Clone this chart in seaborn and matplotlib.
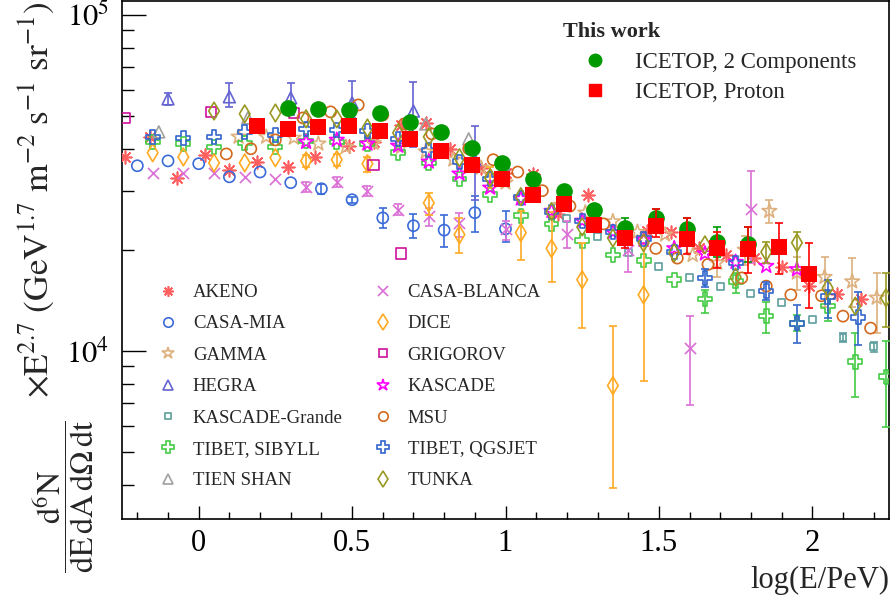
import numpy as np
import matplotlib
matplotlib.use("Agg")
import matplotlib.pyplot as plt
from matplotlib.lines import Line2D
from matplotlib.ticker import LogLocator, NullFormatter, MultipleLocator
import seaborn as sns

nan = np.nan

# ---------------- data (log10(E/PeV), flux x E^2.7) ----------------
ICETOP2C_X = [0.29, 0.39, 0.49, 0.59, 0.69, 0.79, 0.89, 0.99, 1.09, 1.19, 1.29, 1.39, 1.49, 1.59, 1.69, 1.79]
ICETOP2C_Y = [52900, 52500, 52100, 51100, 48000, 44900, 40200, 36300, 32500, 29900, 26300, 23200, 24900, 23100, 21100, 20800]
ICETOP2C_LO = [nan] * 11 + [21900, 23300, 21300, 19100, 18400]
ICETOP2C_HI = [nan] * 11 + [24800, 26500, 24900, 23400, 23400]

ICETOPP_X = [0.19, 0.29, 0.39, 0.49, 0.59, 0.69, 0.79, 0.89, 0.99, 1.09, 1.19, 1.29, 1.39, 1.49, 1.59, 1.69, 1.79, 1.89, 1.99]
ICETOPP_Y = [46700, 45800, 46400, 46700, 45200, 42800, 39400, 35800, 32500, 29100, 27400, 23700, 21700, 23600, 21600, 20300, 20100, 20400, 16950]
ICETOPP_LO = [nan] * 12 + [20300, 21900, 19500, 17700, 17100, 16950, 13450]
ICETOPP_HI = [nan] * 12 + [22600, 26500, 24900, 22600, 23400, 24100, 21000]

AKENO_X = [-0.24, -0.16, -0.07, 0.02, 0.10, 0.19, 0.29, 0.38, 0.49, 0.57, 0.66, 0.74, 0.82, 0.92, 1.00, 1.09, 1.17, 1.27, 1.46, 1.54, 1.63, 1.72, 1.81, 1.90, 1.99, 2.08, 2.16]
AKENO_Y = [37800, 43400, 32800, 38400, 34600, 36600, 35300, 37800, 40800, 41900, 47100, 47800, 40000, 35100, 33900, 33700, 25600, 29200, 22800, 22600, 20300, 19300, 18900, 17800, 15600, 14800, 14300]

CASAMIA_X = [-0.20, -0.10, 0.00, 0.10, 0.20, 0.30, 0.40, 0.50, 0.60, 0.70, 0.80, 0.90, 1.00]
CASAMIA_Y = [35600, 36800, 36100, 33000, 34100, 31700, 30400, 28200, 24900, 23600, 22900, 25800, 23100]
CASAMIA_LO = [nan] * 6 + [29400, 27600, 23300, 21700, 20400, 22600, 21100]
CASAMIA_HI = [nan] * 6 + [31400, 28800, 26700, 25600, 25400, 29000, 26100]

HEGRA_X = [-0.10, 0.10, 0.30, 0.50, 0.70, 0.90]
HEGRA_Y = [56300, 57100, 56700, 54800, 51800, 37100]
HEGRA_LO = [54000, 53300, 50400, 49400, 40500, 28200]
HEGRA_HI = [58600, 62800, 62800, 63600, 63200, 46800]

GAMMA_X = [0.13, 0.22, 0.31, 0.39, 0.48, 0.57, 0.66, 0.74, 0.83, 0.92, 1.00, 1.09, 1.18, 1.26, 1.35, 1.43, 1.52, 1.61, 1.69, 1.78, 1.86, 1.95, 2.04, 2.13, 2.21]
GAMMA_Y = [43400, 43400, 43100, 41400, 40500, 41600, 40500, 39200, 37100, 35100, 31700, 30200, 27200, 25800, 24300, 22600, 22200, 19300, 18300, 20000, 26100, 17100, 16600, 16100, 14400]
GAMMA_LO = [nan] * 18 + [16600, 18000, 24100, 15200, 13550, 13550, 11340]
GAMMA_HI = [nan] * 18 + [20000, 22000, 28200, 19100, 19100, 18900, 17100]

DICE_X = [-0.15, -0.05, 0.05, 0.15, 0.25, 0.35, 0.45, 0.55, 0.75, 0.85, 0.95, 1.05, 1.15, 1.25, 1.35, 1.45]
DICE_Y = [38900, 37800, 36300, 36300, 37600, 36800, 37100, 36100, 27600, 22200, 32800, 22500, 20200, 16300, 7890, 14700]
DICE_LO = [nan] * 5 + [35300, 35600, 34100, 25400, 19600, 30600, 18600, 16000, 11700, 3920, 8160]
DICE_HI = [nan] * 5 + [38400, 38600, 37800, 29600, 24900, 35300, 26100, 26000, 21000, 11900, 21000]

CASABLANCA_X = [-0.15, -0.05, 0.05, 0.15, 0.25, 0.35, 0.45, 0.55, 0.65, 0.75, 0.85, 1.00, 1.20, 1.40, 1.60, 1.80]
CASABLANCA_Y = [33900, 33900, 33900, 33000, 32500, 30800, 31900, 30000, 26300, 25300, 24100, 23100, 22300, 20000, 10200, 26500]
CASABLANCA_LO = [nan] * 5 + [29800, 30800, 29000, 25400, 23600, 21900, 21400, 20200, 17200, 6930, 18300]
CASABLANCA_HI = [nan] * 5 + [31800, 33000, 31000, 27300, 26700, 25800, 24300, 24300, 21000, 12700, 34400]

GRIGOROV_X = [-0.24, 0.04, 0.31, 0.57, 0.66]
GRIGOROV_Y = [49400, 51500, 51100, 35800, 19500]

KASCADE_X = [0.35, 0.45, 0.55, 0.65, 0.75, 0.85, 0.95, 1.05, 1.15, 1.25, 1.35, 1.45, 1.55, 1.65, 1.75, 1.85, 1.95]
KASCADE_Y = [41900, 42500, 41400, 40800, 36600, 33700, 30600, 28400, 26100, 24400, 22600, 21400, 20200, 19500, 18400, 17900, 17500]

KGRANDE_X = [1.00, 1.10, 1.20, 1.30, 1.40, 1.50, 1.60, 1.70, 1.80, 1.90, 2.00, 2.10, 2.20]
KGRANDE_Y = [35300, 29000, 24800, 21900, 19600, 17900, 16600, 15600, 14800, 13900, 12400, 11000, 10300]
KGRANDE_LO = [nan] * 11 + [10660, 9950]
KGRANDE_HI = [nan] * 11 + [11340, 10660]

SIBYLL_X = [-0.15, -0.05, 0.05, 0.15, 0.25, 0.35, 0.45, 0.55, 0.65, 0.75, 0.85, 0.95, 1.05, 1.15, 1.25, 1.35, 1.45, 1.55, 1.65, 1.75, 1.85, 1.95, 2.05, 2.14, 2.24]
SIBYLL_Y = [41900, 41400, 40500, 41600, 40500, 42200, 41900, 41400, 38900, 36300, 32500, 29200, 25300, 23900, 21300, 19300, 18600, 16300, 14300, 16100, 12700, 12100, 13600, 9300, 8390]
SIBYLL_LO = [nan] * 18 + [13000, 14900, 11340, 11500, 12300, 7320, 5960]
SIBYLL_HI = [nan] * 18 + [15220, 17100, 14000, 12800, 15100, 11300, 10700]

QGSJET_X = [-0.15, -0.05, 0.05, 0.15, 0.25, 0.35, 0.45, 0.55, 0.65, 0.75, 0.85, 0.95, 1.05, 1.15, 1.25, 1.35, 1.45, 1.55, 1.65, 1.75, 1.85, 1.95, 2.05, 2.15]
QGSJET_Y = [43400, 43100, 43400, 44900, 44000, 45800, 45500, 45200, 42800, 39700, 36600, 32500, 28600, 26000, 24400, 22600, 21600, 19700, 16500, 18300, 15100, 12100, 14500, 12600]
QGSJET_LO = [nan] * 18 + [15540, nan, 14210, 10590, 12560, 10450]
QGSJET_HI = [nan] * 18 + [17570, nan, 16080, 13730, 16300, 15010]

MSU_X = [0.09, 0.17, 0.25, 0.34, 0.43, 0.52, 0.60, 0.67, 0.76, 0.88, 0.96, 1.04, 1.12, 1.21, 1.32, 1.39, 1.49, 1.56, 1.66, 1.77, 1.85, 1.93, 2.03, 2.10, 2.19]
MSU_Y = [38600, 40000, 42500, 49400, 51500, 54000, 50400, 47400, 44300, 40000, 37100, 34100, 30000, 27000, 23900, 21900, 20200, 18900, 18100, 16500, 15600, 14700, 14600, 12700, 11700]

TIENSHAN_X = [-0.13, 0.16, 0.74, 0.88]
TIENSHAN_Y = [44900, 49400, 47400, 42800]

TUNKA_X = [0.05, 0.15, 0.25, 0.35, 0.45, 0.55, 0.65, 0.75, 0.85, 0.95, 1.05, 1.15, 1.25, 1.35, 1.45, 1.55, 1.65, 1.75, 1.85, 1.95, 2.05, 2.14, 2.24]
TUNKA_Y = [51800, 50800, 51100, 49100, 49100, 46100, 44600, 43400, 37600, 32800, 28800, 26000, 23400, 21700, 21000, 19600, 20700, 16600, 19700, 21000, 15400, 13600, 14400]
TUNKA_LO = [nan] * 18 + [18300, 17450, nan, nan, 11800]
TUNKA_HI = [nan] * 18 + [21100, 22600, nan, nan, 17100]

X_TICKS = [0, 0.5, 1, 1.5, 2]
X_TICK_LABELS = ["0", "0.5", "1", "1.5", "2"]
Y_TICKS = [1e4, 1e5]
Y_TICK_LABELS = [r"$10^{4}$", r"$10^{5}$"]
X_LABEL = "log(E/PeV)"
Y_LABEL_FRAC = r"$\dfrac{\mathrm{d^{6}N}}{\mathrm{dE\,dA\,d\Omega\,dt}}$"
Y_LABEL_REST = r"$\times\mathrm{E^{2.7}\ (GeV^{1.7}\ m^{-2}\ s^{-1}\ sr^{-1})}$"

# ---------------- style ----------------
sns.set_theme(style="white")
plt.rcParams["font.family"] = ["Liberation Serif", "DejaVu Serif"]
plt.rcParams["mathtext.fontset"] = "stix"

fig = plt.figure(figsize=(8.91, 5.96), dpi=100)
ax = fig.add_axes([122 / 891, 1 - 519 / 596, 767 / 891, 518 / 596])
ax.set_yscale("log")

# name, x, y, lo, hi, marker, color, markersize(pt), line-marker?
SERIES = [
    ("AKENO", AKENO_X, AKENO_Y, None, None, (8, 2, 0), "#ff5f5f", 9, True),
    ("CASA-MIA", CASAMIA_X, CASAMIA_Y, CASAMIA_LO, CASAMIA_HI, "o", "#3a6bd8", 8, False),
    ("GAMMA", GAMMA_X, GAMMA_Y, GAMMA_LO, GAMMA_HI, "*", "#ddb07e", 11, False),
    ("HEGRA", HEGRA_X, HEGRA_Y, HEGRA_LO, HEGRA_HI, "^", "#6464d2", 8.5, False),
    ("KASCADE-Grande", KGRANDE_X, KGRANDE_Y, KGRANDE_LO, KGRANDE_HI, "s", "#5f9ea0", 5, False),
    ("TIBET, SIBYLL", SIBYLL_X, SIBYLL_Y, SIBYLL_LO, SIBYLL_HI, "P", "#44cc44", 10, False),
    ("TIEN SHAN", TIENSHAN_X, TIENSHAN_Y, None, None, "^", "#a0a0a0", 8.5, False),
    ("CASA-BLANCA", CASABLANCA_X, CASABLANCA_Y, CASABLANCA_LO, CASABLANCA_HI, "x", "#da70d6", 8, True),
    ("DICE", DICE_X, DICE_Y, DICE_LO, DICE_HI, "d", "#ffaa22", 9, False),
    ("GRIGOROV", GRIGOROV_X, GRIGOROV_Y, None, None, "s", "#cc1199", 7.5, False),
    ("KASCADE", KASCADE_X, KASCADE_Y, None, None, "*", "#ff00ff", 11, False),
    ("MSU", MSU_X, MSU_Y, None, None, "o", "#d2691e", 8, False),
    ("TIBET, QGSJET", QGSJET_X, QGSJET_Y, QGSJET_LO, QGSJET_HI, "P", "#3366cc", 10, False),
    ("TUNKA", TUNKA_X, TUNKA_Y, TUNKA_LO, TUNKA_HI, "d", "#999922", 9, False),
]

LW = 1.2


def draw_errors(x, y, lo, hi, color, z):
    x = np.asarray(x, float)
    y = np.asarray(y, float)
    lo = np.asarray(lo, float)
    hi = np.asarray(hi, float)
    m = ~np.isnan(lo) & ~np.isnan(hi)
    if m.any():
        ax.errorbar(x[m], y[m], yerr=[y[m] - lo[m], hi[m] - y[m]], fmt="none",
                    ecolor=color, elinewidth=LW, capsize=3, capthick=LW, zorder=z)


order_draw = [1, 0, 2, 3, 4, 5, 6, 7, 8, 9, 10, 11, 12, 13]
for i in order_draw:
    name, x, y, lo, hi, mk, col, ms, line = SERIES[i]
    z = 3 + i * 0.01
    if lo is not None:
        draw_errors(x, y, lo, hi, col, z)
    if line:
        sns.scatterplot(x=x, y=y, ax=ax, marker=mk, s=ms ** 2, color=col,
                        linewidth=LW, zorder=z + 0.005, legend=False)
    else:
        sns.scatterplot(x=x, y=y, ax=ax, marker=mk, s=ms ** 2, color=col,
                        facecolor="none", edgecolor=col, linewidth=LW,
                        zorder=z + 0.005, legend=False)

# IceTop (this work)
draw_errors(ICETOP2C_X, ICETOP2C_Y, ICETOP2C_LO, ICETOP2C_HI, "#009900", 5)
sns.scatterplot(x=ICETOP2C_X, y=ICETOP2C_Y, ax=ax, marker="o", s=12 ** 2,
                color="#009900", edgecolor="#009900", linewidth=0, zorder=5.1, legend=False)
draw_errors(ICETOPP_X, ICETOPP_Y, ICETOPP_LO, ICETOPP_HI, "#ff0000", 6)
sns.scatterplot(x=ICETOPP_X, y=ICETOPP_Y, ax=ax, marker="s", s=11 ** 2,
                color="#ff0000", edgecolor="#ff0000", linewidth=0, zorder=6.1, legend=False)

# axes
ax.set_xlim(-0.25, 2.25)
ax.set_ylim(3162, 110100)
ax.set_xticks(X_TICKS)
ax.set_xticklabels(X_TICK_LABELS)
ax.xaxis.set_minor_locator(MultipleLocator(0.1))
ax.set_yticks(Y_TICKS)
ax.set_yticklabels(Y_TICK_LABELS)
ax.yaxis.set_minor_locator(LogLocator(base=10, subs=np.arange(2, 10)))
ax.yaxis.set_minor_formatter(NullFormatter())
ax.tick_params(axis="both", which="both", direction="in", colors="black",
               bottom=True, left=True, top=False, right=False)
ax.tick_params(axis="x", which="major", length=9.5, width=1, labelsize=22, pad=7)
ax.tick_params(axis="x", which="minor", length=5, width=1)
ax.tick_params(axis="y", which="major", length=17, width=1, labelsize=22, pad=9)
ax.tick_params(axis="y", which="minor", length=8.6, width=1)
for sp in ax.spines.values():
    sp.set_visible(True)
    sp.set_color("black")
    sp.set_linewidth(1.2)
ax.set_facecolor("white")
ax.grid(False)

ax.set_xlabel(X_LABEL, fontsize=22, loc="right", labelpad=6)
fig.text(63 / 891, 1 - 497 / 596, Y_LABEL_FRAC, rotation=90, ha="center", va="center", fontsize=23)
fig.text(37 / 891, 1 - 398 / 596, Y_LABEL_REST, rotation=90, ha="center", va="bottom", fontsize=25.5)


# legends
def handle(mk, col, ms, line):
    if line:
        return Line2D([], [], linestyle="none", marker=mk, markersize=ms,
                      markeredgecolor=col, markerfacecolor=col, markeredgewidth=LW)
    return Line2D([], [], linestyle="none", marker=mk, markersize=ms,
                  markeredgecolor=col, markerfacecolor="none", markeredgewidth=LW)


col1 = SERIES[:7]
col2 = SERIES[7:]
leg_top = (519 - 284) / 518
for cols, left_px in ((col1, 159), (col2, 374)):
    lg = ax.legend([handle(s[5], s[6], s[7] * 0.85, s[8]) for s in cols], [s[0] for s in cols],
                   loc="upper left", bbox_to_anchor=((left_px - 122) / 767, leg_top),
                   frameon=False, fontsize=13.5, handlelength=0.95, handletextpad=0.85,
                   labelspacing=0.76, borderpad=0, borderaxespad=0)
    ax.add_artist(lg)

h_ice = [Line2D([], [], linestyle="none", marker="o", markersize=9,
                markerfacecolor="#009900", markeredgecolor="#009900"),
         Line2D([], [], linestyle="none", marker="s", markersize=8,
                markerfacecolor="#ff0000", markeredgecolor="#ff0000")]
lg3 = ax.legend(h_ice, ["ICETOP, 2 Components", "ICETOP, Proton"], loc="upper left",
                bbox_to_anchor=((563 - 122) / 767, (519 - 22) / 518), frameon=False,
                fontsize=16.5, title="This work",
                title_fontproperties={"weight": "bold", "size": 16},
                alignment="left", handlelength=2.8, handletextpad=0.33,
                labelspacing=0.42, borderpad=0, borderaxespad=0)

fig.savefig("out.png", dpi=100, facecolor="white")
